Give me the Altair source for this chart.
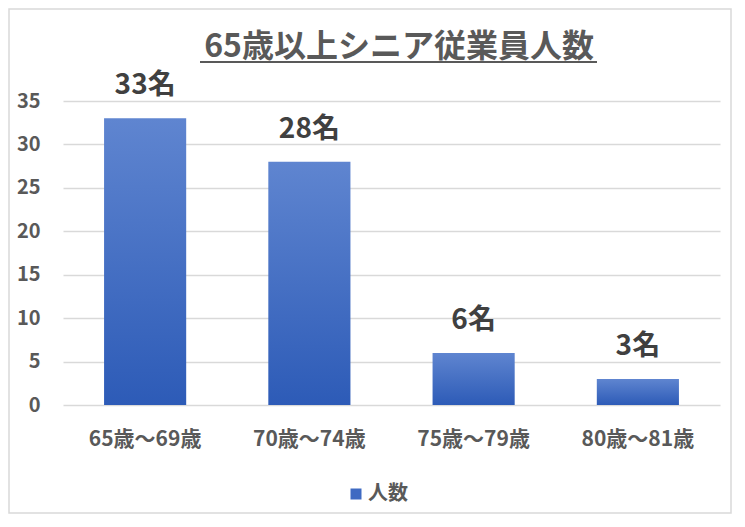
import altair as alt
import pandas as pd

# values
categories = ["65歳～69歳", "70歳～74歳", "75歳～79歳", "80歳～81歳"]
counts = [33, 28, 6, 3]
count_labels = ["33名", "28名", "6名", "3名"]
series_name = "人数"
y_ticks = [0, 5, 10, 15, 20, 25, 30, 35]
title_text = "65歳以上シニア従業員人数"

FONT = "Noto Sans CJK JP"
GRAY = "#595959"
DARK = "#404040"
GRID = "#D9D9D9"

df = pd.DataFrame(
    {"age": categories, "count": counts, "label": count_labels, "series": series_name}
)
one_row = pd.DataFrame({"t": [title_text]})

# Excel-like vertical gradient on each bar
bar_fill = alt.Gradient(
    gradient="linear",
    stops=[
        alt.GradientStop(color="#5F85D0", offset=0),
        alt.GradientStop(color="#2D5BB7", offset=1),
    ],
    x1=0, x2=0, y1=0, y2=1,
)

x_enc = alt.X(
    "age:N",
    sort=categories,
    title=None,
    scale=alt.Scale(paddingInner=0.5, paddingOuter=0.25),
    axis=alt.Axis(
        labelAngle=0,
        labelFontSize=21,
        labelFont=FONT,
        labelFontWeight="bold",
        labelColor=GRAY,
        labelPadding=23,
        ticks=False,
        domain=False,
    ),
)
y_enc = alt.Y(
    "count:Q",
    scale=alt.Scale(domain=[0, 35], nice=False),
    axis=alt.Axis(
        values=y_ticks,
        title=None,
        labelFontSize=20,
        labelFont=FONT,
        labelFontWeight="bold",
        labelColor=GRAY,
        labelPadding=23,
        ticks=False,
        domain=False,
        grid=True,
        gridColor=GRID,
        gridWidth=1.3,
    ),
)

border = (
    alt.Chart(one_row)
    .mark_rect(fillOpacity=0, stroke=GRID, strokeWidth=1.5)
    .encode(x=alt.value(-54), x2=alt.value(668), y=alt.value(-92), y2=alt.value(412))
)

bars = alt.Chart(df).mark_bar(fill=bar_fill).encode(x=x_enc, y=y_enc)

labels = (
    alt.Chart(df)
    .mark_text(dy=-24, baseline="alphabetic", fontSize=28, fontWeight="bold",
               font=FONT, color=DARK)
    .encode(x=alt.X("age:N", sort=categories), y="count:Q", text="label:N")
)

# chart title drawn as text so that it sits exactly above the plot
title = (
    alt.Chart(one_row)
    .mark_text(baseline="alphabetic", align="center", fontSize=32, fontWeight="bold",
               font=FONT, color=GRAY)
    .encode(x=alt.value(336), y=alt.value(-44), text="t:N")
)

# underline below the title
underline = (
    alt.Chart(one_row)
    .mark_rule(color=GRAY, strokeWidth=2)
    .encode(x=alt.value(137), x2=alt.value(534), y=alt.value(-39))
)

# invisible marks that only carry the legend
legend_layer = (
    alt.Chart(df)
    .mark_square(opacity=0, size=10)
    .encode(
        x=alt.X("age:N", sort=categories),
        y="count:Q",
        color=alt.Color(
            "series:N",
            scale=alt.Scale(range=["#3F6AC2"]),
            legend=alt.Legend(
                title=None,
                orient="none",
                legendX=283,
                legendY=383,
                symbolType="square",
                symbolSize=121,
                symbolOpacity=1,
                symbolStrokeWidth=0,
                labelFontSize=20,
                labelFont=FONT,
                labelFontWeight="bold",
                labelColor=GRAY,
                labelOffset=2,
            ),
        ),
    )
)

chart = (
    alt.layer(border, bars, labels, title, underline, legend_layer)
    .properties(
        width=657,
        height=304,
        autosize="none",
        padding={"left": 55, "top": 93, "right": 12, "bottom": 109},
    )
    .configure_view(stroke=None)
)

chart.save("out.html", embed_options={"renderer": "svg", "actions": False})
